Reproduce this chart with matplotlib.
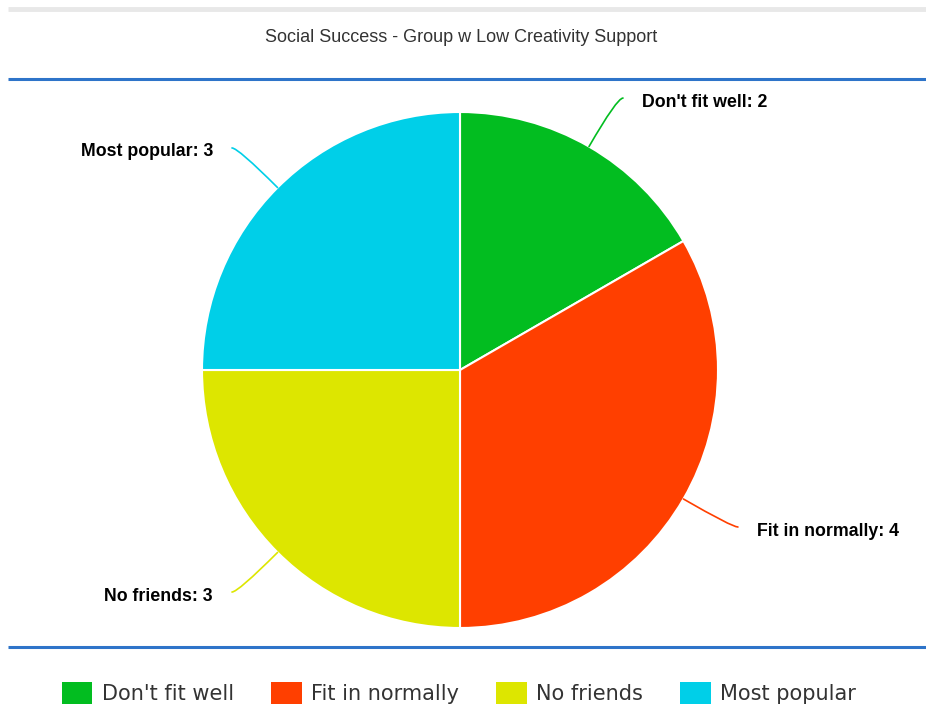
import numpy as np
import matplotlib.pyplot as plt
from matplotlib.patches import Patch

categories = ["Don't fit well", "Fit in normally", "No friends", "Most popular"]
counts = [2, 4, 3, 3]
colors = ["#02bd20", "#ff3f00", "#dde600", "#00cfe8"]
title = "Social Success - Group w Low Creativity Support"

W, H = 926, 706
fig = plt.figure(figsize=(W / 100, H / 100), dpi=100)
ax = fig.add_axes([0, 0, 1, 1])

# frame lines (pixel coords, y measured from top)
def hline(y_px, color, lw):
    ax.plot([8, W], [H - y_px, H - y_px], color=color, lw=lw, solid_capstyle='butt')

hline(9, "#e8e8e8", 3.5)
hline(79, "#2e74c9", 2.2)
hline(647, "#2e74c9", 2.2)

fig.text(461 / W, 1 - 37 / H, title, ha='center', va='center',
         fontsize=13, color="#333333", family="Liberation Sans")

cx, cy, r = 460, H - 370, 258
wedges, _ = ax.pie(counts, colors=colors, startangle=90, counterclock=False,
                   center=(cx, cy), radius=r, frame=True,
                   wedgeprops=dict(edgecolor='white', linewidth=1.5))
ax.set_xlim(0, W)
ax.set_ylim(0, H)
ax.set_aspect('equal')
ax.axis('off')

for w, name, n in zip(wedges, categories, counts):
    ang = np.deg2rad((w.theta1 + w.theta2) / 2)
    ex, ey = cx + r * np.cos(ang), cy + r * np.sin(ang)
    side = 1 if np.cos(ang) > 0 else -1
    tx = cx + 314 * np.cos(ang) + side * 6
    ty = cy + 314 * np.sin(ang)
    ax.annotate("", xy=(ex, ey), xytext=(tx, ty),
                arrowprops=dict(arrowstyle='-', color=w.get_facecolor(), lw=1.2,
                                shrinkA=0, shrinkB=0,
                                connectionstyle=f"angle3,angleA=0,angleB={np.rad2deg(ang)}"))
    ax.text(tx + side * 19, ty - 4, f"{name}: {n}", ha='left' if side > 0 else 'right',
            va='center', fontsize=12.8, fontweight='bold', color='black',
            family="Liberation Sans")

handles = [Patch(facecolor=c, edgecolor='none') for c in colors]
fig.legend(handles, categories, loc='center', bbox_to_anchor=(459 / W, 1 - 693 / H),
           ncol=4, frameon=False, fontsize=15, handlelength=1.45, handleheight=1.3,
           handletextpad=0.45, columnspacing=1.8, labelcolor="#333333")

fig.savefig("out.png", dpi=100, facecolor='white')
